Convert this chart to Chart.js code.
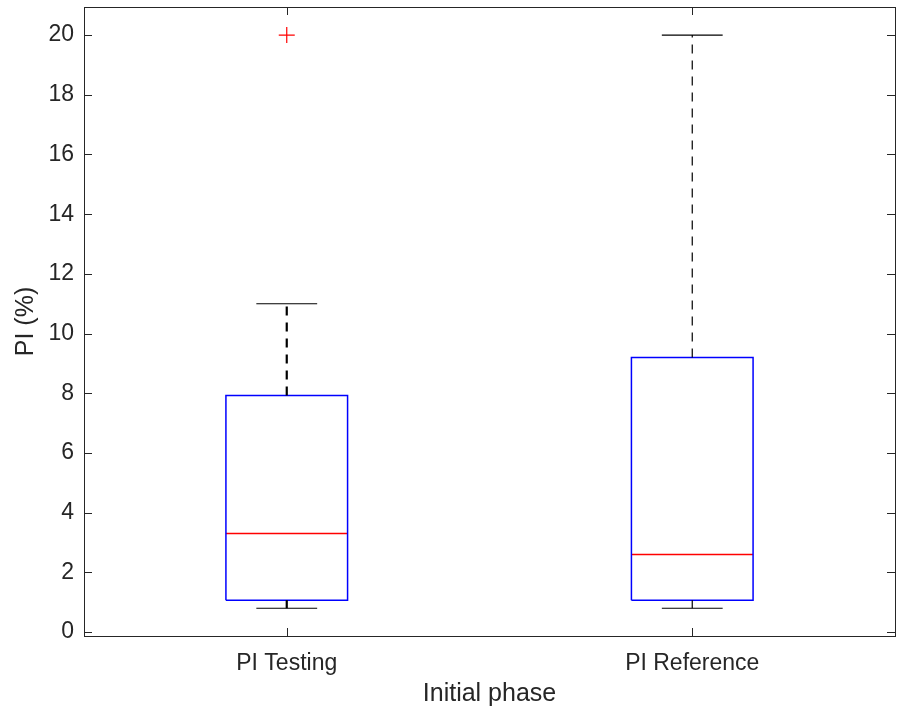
<!DOCTYPE html>
<html>
<head>
<meta charset="utf-8">
<script src="https://cdn.jsdelivr.net/npm/chart.js@4"></script>
<style>
  body { margin: 0; background: #fff; }
</style>
</head>
<body>
<canvas id="box-canvas" width="900" height="713"></canvas>
<script>
// boxplot data
var categories = ['PI Testing', 'PI Reference']
var whiskerLow = [0.8, 0.8]
var q1 = [1.07, 1.07]
var median = [3.3, 2.6]
var q3 = [7.93, 9.2]
var whiskerHigh = [11, 20]
var outliers = [[20], []]
var yTicks = [0, 2, 4, 6, 8, 10, 12, 14, 16, 18, 20]

var boxHalf = 0.15
var capHalf = 0.075
var axisColor = '#262626'
var fontFamily = "'Liberation Sans', Arial, sans-serif"

function line(points, color, width, dash) {
  return {
    type: 'scatter',
    showLine: true,
    data: points,
    borderColor: color,
    backgroundColor: color,
    borderWidth: width,
    borderDash: dash || [],
    pointRadius: 0,
    fill: false
  }
}

var datasets = []
for (let i = 0; i < categories.length; i++) {
  var x = i + 1
  // whiskers first so the box draws on top
  datasets.push(line([{x: x, y: q3[i]}, {x: x, y: whiskerHigh[i]}], '#000', i == 0 ? 2.2 : 1.2, [9, 7]))
  datasets.push(line([{x: x, y: whiskerLow[i]}, {x: x, y: q1[i]}], '#000', i == 0 ? 2.2 : 1.2, [9, 7]))
  datasets.push(line([{x: x - capHalf, y: whiskerHigh[i]}, {x: x + capHalf, y: whiskerHigh[i]}], '#000', 1.2))
  datasets.push(line([{x: x - capHalf, y: whiskerLow[i]}, {x: x + capHalf, y: whiskerLow[i]}], '#000', 1.2))
  datasets.push(line([
    {x: x - boxHalf, y: q1[i]}, {x: x + boxHalf, y: q1[i]},
    {x: x + boxHalf, y: q3[i]}, {x: x - boxHalf, y: q3[i]},
    {x: x - boxHalf, y: q1[i]}
  ], '#0000ff', 1.5))
  datasets.push(line([{x: x - boxHalf, y: median[i]}, {x: x + boxHalf, y: median[i]}], '#ff0000', 1.5))
  if (outliers[i].length) {
    datasets.push({
      type: 'scatter',
      data: outliers[i].map(function (v) { return {x: x, y: v} }),
      pointStyle: 'cross',
      pointRadius: 8,
      borderColor: '#ff0000',
      borderWidth: 1.2
    })
  }
}

// matlab style frame with inward ticks
var framePlugin = {
  id: 'frame',
  afterDraw: function (chart) {
    var ctx = chart.ctx
    var a = chart.chartArea
    var xs = chart.scales.x
    var ys = chart.scales.y
    ctx.save()
    ctx.strokeStyle = axisColor
    ctx.lineWidth = 1
    ctx.strokeRect(Math.round(a.left) + 0.5, Math.round(a.top) + 0.5, Math.round(a.right - a.left), Math.round(a.bottom - a.top))
    ctx.beginPath()
    ys.ticks.forEach(function (t) {
      var py = Math.round(ys.getPixelForValue(t.value)) + 0.5
      ctx.moveTo(a.left, py); ctx.lineTo(a.left + 8, py)
      ctx.moveTo(a.right, py); ctx.lineTo(a.right - 8, py)
    })
    xs.ticks.forEach(function (t) {
      var px = Math.round(xs.getPixelForValue(t.value)) + 0.5
      ctx.moveTo(px, a.bottom); ctx.lineTo(px, a.bottom - 8)
      ctx.moveTo(px, a.top); ctx.lineTo(px, a.top + 8)
    })
    ctx.stroke()
    ctx.restore()
  }
}

var boxChart = new Chart(document.getElementById('box-canvas').getContext('2d'), {
  data: { datasets: datasets },
  options: {
    responsive: false,
    animation: false,
    layout: { autoPadding: false, padding: { top: 7, right: 5, left: 0, bottom: 0 } },
    plugins: {
      legend: { display: false },
      tooltip: { enabled: false }
    },
    scales: {
      x: {
        type: 'linear',
        min: 0.5,
        max: 2.5,
        grid: { display: false, drawTicks: false },
        border: { display: false },
        afterBuildTicks: function (scale) {
          scale.ticks = categories.map(function (c, i) { return {value: i + 1} })
        },
        afterFit: function (scale) {
          scale.height = 77
          scale.paddingLeft = 0
          scale.paddingRight = 0
        },
        ticks: {
          color: axisColor,
          padding: 14,
          maxRotation: 0,
          font: { family: fontFamily, size: 23 },
          callback: function (v) { return categories[v - 1] }
        },
        title: {
          display: true,
          text: 'Initial phase',
          color: axisColor,
          font: { family: fontFamily, size: 25 },
          padding: { top: 0, bottom: 4 }
        }
      },
      y: {
        min: -0.13,
        max: 20.94,
        grid: { display: false, drawTicks: false },
        border: { display: false },
        afterBuildTicks: function (scale) {
          scale.ticks = yTicks.map(function (v) { return {value: v} })
        },
        afterFit: function (scale) {
          scale.width = 84
          scale.paddingTop = 0
          scale.paddingBottom = 0
        },
        ticks: {
          color: axisColor,
          padding: 10,
          font: { family: fontFamily, size: 23 }
        },
        title: {
          display: true,
          text: 'PI (%)',
          color: axisColor,
          font: { family: fontFamily, size: 25 },
          padding: { top: 11, bottom: 0 }
        }
      }
    }
  },
  plugins: [framePlugin]
})
</script>
</body>
</html>
